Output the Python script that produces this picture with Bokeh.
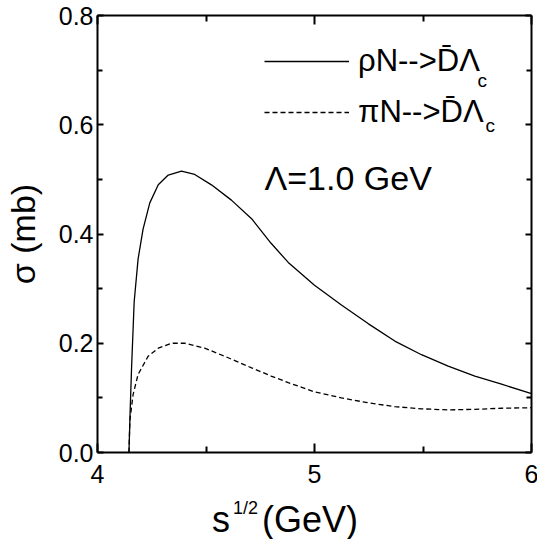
from bokeh.plotting import figure
from bokeh.models import (Range1d, LinearAxis, Label, Legend, LegendItem,
                          FixedTicker, Div)
from bokeh.layouts import column
from bokeh.embed import file_html
from bokeh.resources import INLINE

# ---- data ----
rho_x = [4.145, 4.150, 4.157, 4.169, 4.187, 4.210, 4.241, 4.280, 4.326, 4.387,
         4.448, 4.525, 4.617, 4.710, 4.800, 4.879, 5.000, 5.124, 5.247, 5.370,
         5.493, 5.616, 5.739, 5.862, 6.000]
rho_y = [0.000, 0.070, 0.155, 0.276, 0.354, 0.409, 0.457, 0.490, 0.508, 0.515,
         0.509, 0.490, 0.462, 0.428, 0.383, 0.348, 0.306, 0.270, 0.236, 0.204,
         0.179, 0.158, 0.140, 0.125, 0.108]

pi_x = [4.145, 4.149, 4.164, 4.187, 4.233, 4.280, 4.341, 4.402, 4.494, 4.587,
        4.710, 4.800, 4.879, 5.000, 5.124, 5.247, 5.370, 5.493, 5.616, 5.739,
        5.862, 6.000]
pi_y = [0.000, 0.058, 0.106, 0.143, 0.176, 0.191, 0.200, 0.200, 0.191, 0.176,
        0.155, 0.140, 0.128, 0.111, 0.100, 0.091, 0.084, 0.080, 0.078, 0.079,
        0.081, 0.082]

x_major = [4, 5, 6]
x_minor = [4.5, 5.5]
x_labels = {4: "4", 5: "5", 6: "6"}
y_major = [0.0, 0.2, 0.4, 0.6, 0.8]
y_minor = [0.1, 0.3, 0.5, 0.7]
y_labels = {0.0: "0.0", 0.2: "0.2", 0.4: "0.4", 0.6: "0.6", 0.8: "0.8"}

legend_rho = "ρN-->D\u0304Λ"
legend_pi = "πN-->D\u0304Λ"
cutoff_text = "Λ=1.0 GeV"
y_title = "σ (mb)"
x_title_main = "s"
x_title_sup = "1/2"
x_title_unit = "(GeV)"

FONT = "Liberation Sans"

p = figure(frame_width=434, frame_height=437,
           min_border_left=96, min_border_right=7, min_border_top=15,
           min_border_bottom=50,
           x_range=Range1d(4, 6), y_range=Range1d(0, 0.8),
           output_backend="svg", toolbar_location=None)
p.grid.visible = False
p.outline_line_color = None
p.background_fill_color = "white"
p.border_fill_color = "white"


def style_axis(ax, major, minor, labels, tick_in, minor_in, show_labels):
    ax.ticker = FixedTicker(ticks=major, minor_ticks=minor)
    ax.axis_line_width = 2
    ax.axis_line_color = "black"
    ax.major_tick_in = tick_in
    ax.major_tick_out = 0
    ax.minor_tick_in = minor_in
    ax.minor_tick_out = 0
    ax.major_tick_line_width = 2
    ax.minor_tick_line_width = 2
    ax.major_tick_line_color = "black"
    ax.minor_tick_line_color = "black"
    ax.major_label_text_font = FONT
    ax.major_label_text_color = "black"
    if show_labels:
        ax.major_label_overrides = labels
        ax.major_label_text_font_size = "25px"
    else:
        ax.major_label_overrides = {k: "" for k in labels}
        ax.major_label_text_font_size = "1px"
        ax.major_label_standoff = 0


style_axis(p.xaxis[0], x_major, x_minor, x_labels, 9, 6, True)
p.xaxis[0].major_label_standoff = 12
style_axis(p.yaxis[0], y_major, y_minor, y_labels, 6, 5, True)
p.yaxis[0].major_label_standoff = 4
p.yaxis[0].axis_label = y_title
p.yaxis[0].axis_label_text_font = FONT
p.yaxis[0].axis_label_text_font_size = "34px"
p.yaxis[0].axis_label_text_font_style = "normal"
p.yaxis[0].axis_label_text_color = "black"
p.yaxis[0].axis_label_standoff = 14

top = LinearAxis()
style_axis(top, x_major, x_minor, x_labels, 9, 6, False)
p.add_layout(top, "above")
right = LinearAxis()
style_axis(right, y_major, y_minor, y_labels, 6, 5, False)
p.add_layout(right, "right")

r1 = p.line(rho_x, rho_y, line_color="black", line_width=1.3)
r2 = p.line(pi_x, pi_y, line_color="black", line_width=1.3, line_dash="5 3")

legend = Legend(items=[LegendItem(label=legend_rho, renderers=[r1]),
                       LegendItem(label=legend_pi, renderers=[r2])],
                location=(167, 322), orientation="vertical",
                glyph_width=85, glyph_height=20, label_standoff=9,
                spacing=15, padding=0, margin=0,
                border_line_alpha=0, background_fill_alpha=0,
                label_text_font=FONT, label_text_font_size="31px",
                label_text_color="black")
p.add_layout(legend, "center")


def screen_label(x, y, text, size):
    p.add_layout(Label(x=x, y=y, x_units="screen", y_units="screen",
                       text=text, text_font=FONT, text_font_size=size,
                       text_baseline="alphabetic", text_color="black"))


# subscripts of the legend entries
screen_label(380, 372, "c", "19px")
screen_label(388, 327, "c", "19px")
# cutoff annotation
screen_label(167, 275, cutoff_text, "34px")

# x-axis title (with superscript) below the figure
title_html = (
    f'<div style="font-family:\'{FONT}\';font-size:36px;line-height:36px;'
    f'white-space:nowrap;color:black;padding-left:212px;">'
    f'{x_title_main}<span style="font-size:18px;position:relative;top:-18px;'
    f'margin-left:3px;">{x_title_sup}</span>'
    f'<span style="margin-left:4px;">{x_title_unit}</span></div>'
)
xtitle = Div(text=title_html, width=537, height=36, margin=(0, 0, 0, 0))

layout = column(p, xtitle, spacing=0)

open("out.html", "w").write(file_html(layout, INLINE))
